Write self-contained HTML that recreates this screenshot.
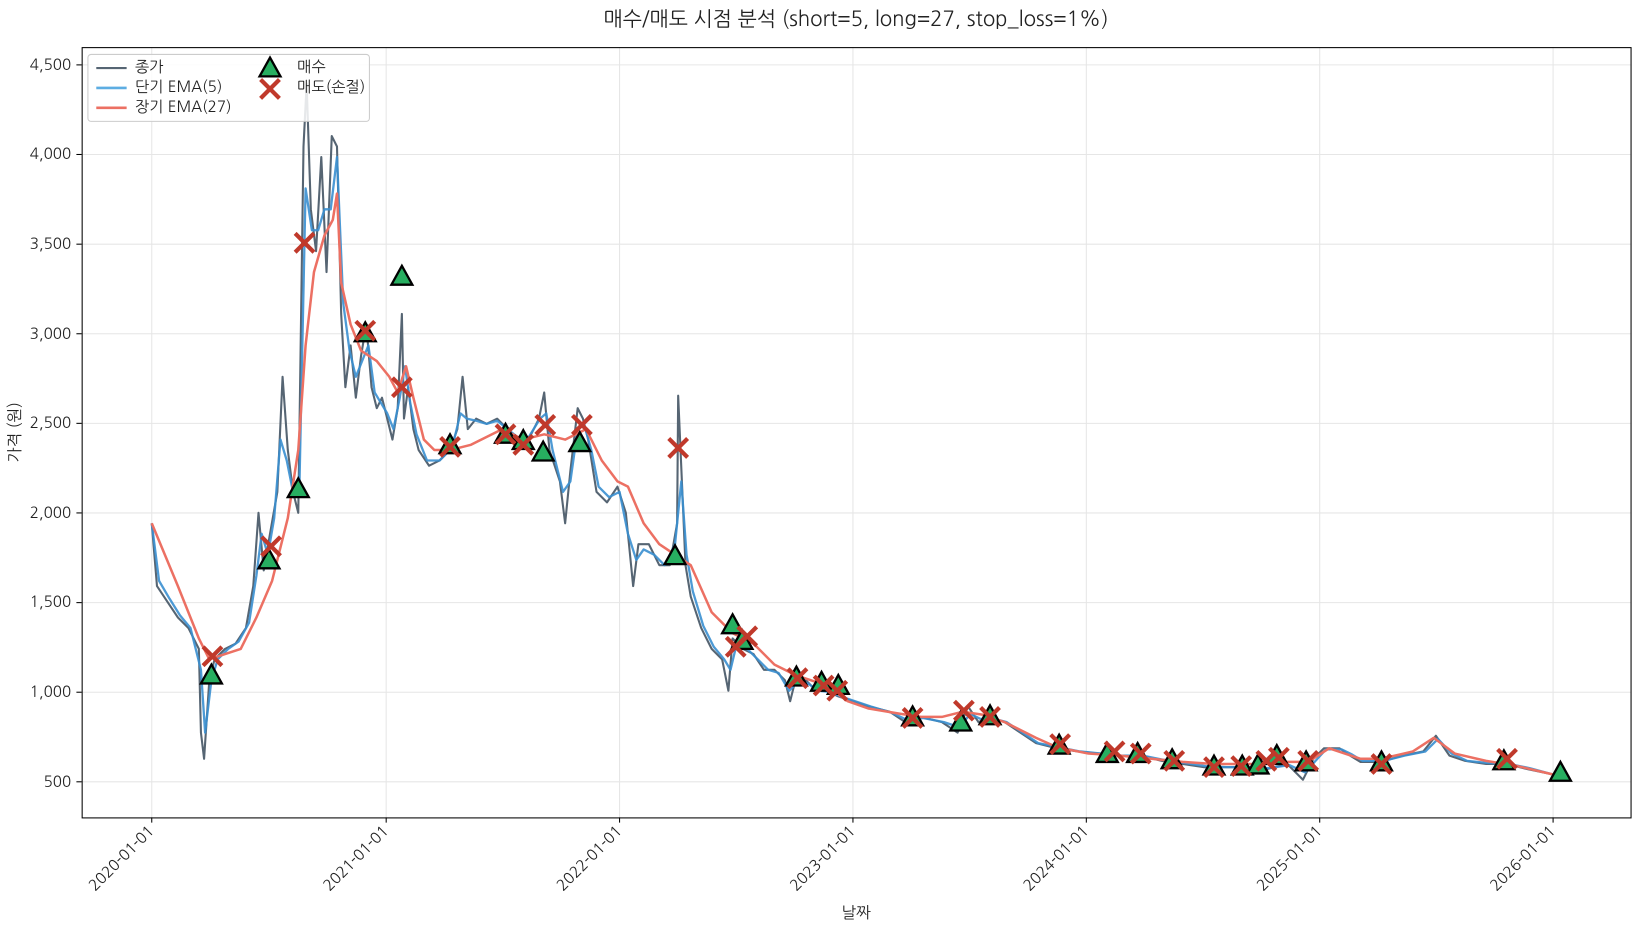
<!DOCTYPE html><html><head><meta charset="utf-8"><style>body{margin:0;background:#fff}svg{display:block;font-family:"NanumGothic","Liberation Sans","Noto Sans CJK KR",sans-serif}</style></head><body>
<svg width="1641" height="930" viewBox="0 0 1568 888.6" preserveAspectRatio="none" xmlns="http://www.w3.org/2000/svg">
<defs>
<path id="tri" d="M0,-10 L10,8 L-10,8 Z" fill="#27ae60" stroke="#000" stroke-width="2.2" stroke-linejoin="miter"/>
<path id="x" d="M-9,-9L9,9M-9,9L9,-9" stroke="#c0392b" stroke-width="4"/>
</defs>
<text x="818" y="25" text-anchor="middle" font-size="19.5" fill="#222">매수/매도 시점 분석 (short=5, long=27, stop_loss=1%)</text>
<g stroke="#e6e6e6" stroke-width="1">
<line x1="78" x2="1558" y1="62" y2="62"/><line x1="78" x2="1558" y1="147.6" y2="147.6"/><line x1="78" x2="1558" y1="233.3" y2="233.3"/><line x1="78" x2="1558" y1="318.9" y2="318.9"/><line x1="78" x2="1558" y1="404.5" y2="404.5"/><line x1="78" x2="1558" y1="490.1" y2="490.1"/><line x1="78" x2="1558" y1="575.8" y2="575.8"/><line x1="78" x2="1558" y1="661.4" y2="661.4"/><line x1="78" x2="1558" y1="747" y2="747"/>
<line y1="45" y2="781" x1="145" x2="145"/><line y1="45" y2="781" x1="369" x2="369"/><line y1="45" y2="781" x1="592" x2="592"/><line y1="45" y2="781" x1="815" x2="815"/><line y1="45" y2="781" x1="1038" x2="1038"/><line y1="45" y2="781" x1="1261" x2="1261"/><line y1="45" y2="781" x1="1484" x2="1484"/>
</g>
<g font-size="14.5" fill="#222" text-anchor="end">
<text x="68" y="67">4,500</text><text x="68" y="152">4,000</text><text x="68" y="238">3,500</text><text x="68" y="324">3,000</text><text x="68" y="409">2,500</text><text x="68" y="495">2,000</text><text x="68" y="580">1,500</text><text x="68" y="666">1,000</text><text x="68" y="752">500</text>
</g>
<g stroke="#000"><line x1="73" x2="78" y1="62" y2="62"/><line x1="73" x2="78" y1="147.6" y2="147.6"/><line x1="73" x2="78" y1="233.3" y2="233.3"/><line x1="73" x2="78" y1="318.9" y2="318.9"/><line x1="73" x2="78" y1="404.5" y2="404.5"/><line x1="73" x2="78" y1="490.1" y2="490.1"/><line x1="73" x2="78" y1="575.8" y2="575.8"/><line x1="73" x2="78" y1="661.4" y2="661.4"/><line x1="73" x2="78" y1="747" y2="747"/>
<line y1="781" y2="786" x1="145" x2="145"/><line y1="781" y2="786" x1="369" x2="369"/><line y1="781" y2="786" x1="592" x2="592"/><line y1="781" y2="786" x1="815" x2="815"/><line y1="781" y2="786" x1="1038" x2="1038"/><line y1="781" y2="786" x1="1261" x2="1261"/><line y1="781" y2="786" x1="1484" x2="1484"/></g>
<g font-size="14.5" fill="#222" text-anchor="end">
<text transform="translate(148,795) rotate(-45)">2020-01-01</text><text transform="translate(372,795) rotate(-45)">2021-01-01</text><text transform="translate(595,795) rotate(-45)">2022-01-01</text><text transform="translate(818,795) rotate(-45)">2023-01-01</text><text transform="translate(1041,795) rotate(-45)">2024-01-01</text><text transform="translate(1264,795) rotate(-45)">2025-01-01</text><text transform="translate(1487,795) rotate(-45)">2026-01-01</text>
</g>
<text x="818" y="877" text-anchor="middle" font-size="15" fill="#222">날짜</text>
<text transform="translate(19,413) rotate(-90)" text-anchor="middle" font-size="15" fill="#222">가격 (원)</text>
<g fill="none" stroke-linejoin="round">
<polyline stroke="#566573" stroke-width="2" points="145,500 150,560 160,575 170,590 180,600 190,620 192,700 195,725 200,650 205,630 215,620 225,615 235,600 242,560 247,490 252,545 258,510 265,470 270,360 275,430 280,470 285,490 290,140 293,80 297,200 302,240 307,150 312,260 317,130 322,140 326,300 330,370 335,330 340,380 345,340 350,310 355,370 360,390 365,380 370,400 375,420 380,390 384,300 386,400 390,370 395,410 400,430 410,445 420,440 430,430 437,410 442,360 447,410 455,400 465,405 475,400 485,410 495,420 505,420 515,400 520,375 525,430 535,460 540,500 545,450 552,390 557,400 562,420 570,470 580,480 590,465 598,490 605,560 610,520 620,520 630,540 640,540 647,500 648,378 652,470 655,540 660,570 670,600 680,620 690,630 696,660 700,610 710,620 720,625 730,640 740,640 750,650 755,670 760,650 770,650 780,660 790,660 800,665 815,670 830,675 850,680 865,690 880,685 900,690 915,700 925,675 935,690 945,685 960,690 975,700 990,710 1010,715 1030,718 1050,720 1070,722 1090,722 1110,727 1130,730 1150,733 1170,733 1190,733 1210,735 1230,730 1245,745 1255,725 1265,715 1280,715 1290,722 1300,728 1320,728 1340,722 1360,718 1372,703 1385,722 1400,727 1420,730 1440,730 1460,735 1484,740"/>
<polyline stroke="#3a8fd0" stroke-width="2.2" opacity="0.9" points="145,500 152,555 162,572 172,588 182,600 192,640 196,700 202,650 208,630 218,620 228,613 238,595 245,550 250,510 256,530 262,495 268,420 274,440 280,470 286,470 292,180 298,220 304,220 310,200 316,200 322,150 328,290 334,335 340,360 346,345 352,330 358,375 364,385 370,395 376,410 382,380 387,350 392,385 398,415 408,440 420,440 432,428 440,395 446,400 455,402 465,405 475,402 485,410 495,418 505,418 516,400 522,395 528,430 538,470 545,460 552,410 558,405 565,430 572,465 582,475 592,470 600,510 608,535 615,525 625,530 635,540 645,520 651,460 656,530 662,565 672,598 682,618 692,630 698,640 704,615 714,620 724,630 734,640 744,643 754,660 762,652 772,653 782,660 792,661 802,665 817,670 832,675 852,681 867,688 882,686 902,690 917,695 927,682 937,687 947,686 962,690 977,700 992,710 1012,714 1032,718 1052,720 1072,722 1092,722 1112,726 1132,729 1152,732 1172,733 1192,733 1212,734 1232,731 1247,738 1257,727 1267,716 1282,716 1292,721 1302,727 1322,727 1342,722 1362,718 1374,706 1387,720 1402,727 1422,729 1442,730 1462,734 1484,740"/>
<polyline stroke="#ec7063" stroke-width="2.4" points="145,500 170,560 190,610 200,630 215,625 230,620 245,590 260,555 275,495 285,430 292,330 300,260 310,225 318,210 322,185 326,270 335,310 345,335 360,345 372,360 380,375 388,350 395,380 405,420 415,430 430,430 450,425 480,410 500,420 520,415 540,420 560,410 575,440 590,460 600,465 615,500 630,520 645,530 660,540 680,585 700,605 720,615 740,635 760,645 790,655 810,670 830,677 860,682 880,685 900,685 920,680 940,683 960,690 990,705 1010,714 1040,720 1070,722 1100,725 1130,728 1160,730 1200,730 1230,728 1250,728 1270,715 1300,725 1320,725 1350,718 1370,705 1390,720 1420,727 1450,732 1484,740"/>
</g>
<g>
<use href="#tri" x="202" y="645"/><use href="#tri" x="257" y="535"/><use href="#tri" x="285" y="467"/><use href="#tri" x="349" y="318"/><use href="#tri" x="384" y="264"/><use href="#tri" x="430" y="425"/><use href="#tri" x="483" y="415"/><use href="#tri" x="500" y="421"/><use href="#tri" x="519" y="432"/><use href="#tri" x="554" y="423"/><use href="#tri" x="645" y="531"/><use href="#tri" x="700" y="597"/><use href="#tri" x="709" y="612"/><use href="#tri" x="761" y="647"/><use href="#tri" x="785" y="652"/><use href="#tri" x="801" y="655"/><use href="#tri" x="872" y="685"/><use href="#tri" x="918" y="690"/><use href="#tri" x="946" y="684"/><use href="#tri" x="1012" y="712"/><use href="#tri" x="1058" y="720"/><use href="#tri" x="1087" y="720"/><use href="#tri" x="1120" y="726"/><use href="#tri" x="1160" y="732"/><use href="#tri" x="1187" y="732"/><use href="#tri" x="1202" y="731"/><use href="#tri" x="1220" y="722"/><use href="#tri" x="1248" y="728"/><use href="#tri" x="1320" y="728"/><use href="#tri" x="1437" y="727"/><use href="#tri" x="1491" y="738"/>
<use href="#x" x="203" y="627"/><use href="#x" x="259" y="522"/><use href="#x" x="291" y="232"/><use href="#x" x="349" y="316"/><use href="#x" x="384" y="370"/><use href="#x" x="430" y="427"/><use href="#x" x="483" y="415"/><use href="#x" x="500" y="425"/><use href="#x" x="521" y="406"/><use href="#x" x="556" y="406"/><use href="#x" x="648" y="428"/><use href="#x" x="703" y="618"/><use href="#x" x="714" y="608"/><use href="#x" x="762" y="648"/><use href="#x" x="787" y="655"/><use href="#x" x="800" y="660"/><use href="#x" x="872" y="686"/><use href="#x" x="921" y="679"/><use href="#x" x="946" y="685"/><use href="#x" x="1013" y="711"/><use href="#x" x="1065" y="718"/><use href="#x" x="1090" y="720"/><use href="#x" x="1122" y="727"/><use href="#x" x="1160" y="733"/><use href="#x" x="1186" y="732"/><use href="#x" x="1210" y="727"/><use href="#x" x="1222" y="724"/><use href="#x" x="1250" y="727"/><use href="#x" x="1320" y="730"/><use href="#x" x="1440" y="725"/>
</g>
<rect x="78.5" y="45.5" width="1480" height="736" fill="none" stroke="#000" stroke-width="1"/>
<g>
<rect x="84" y="52" width="269" height="64" rx="3" fill="#fff" fill-opacity="0.85" stroke="#ccc"/>
<line x1="92" x2="121" y1="65" y2="65" stroke="#566573" stroke-width="2"/>
<line x1="92" x2="121" y1="84" y2="84" stroke="#5dade2" stroke-width="2.5"/>
<line x1="92" x2="121" y1="103" y2="103" stroke="#ec7063" stroke-width="2.5"/>
<g font-size="14.5" fill="#222"><text x="129" y="69">종가</text><text x="129" y="88">단기 EMA(5)</text><text x="129" y="107">장기 EMA(27)</text><text x="284" y="69">매수</text><text x="284" y="88">매도(손절)</text></g>
<use href="#tri" x="258" y="65"/><use href="#x" x="258" y="85"/>
</g>
</svg></body></html>
